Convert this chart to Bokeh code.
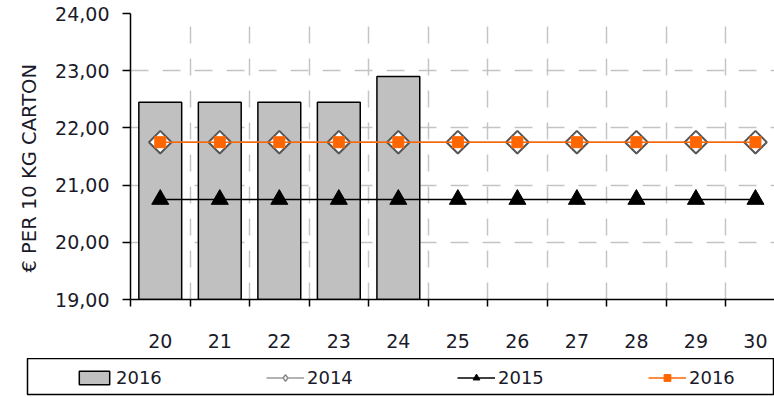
from bokeh.plotting import figure
from bokeh.models import Range1d, FixedTicker, Legend, LegendItem, Title
from bokeh.layouts import column
from bokeh.embed import file_html
from bokeh.resources import INLINE
import math

# ---- data ----
weeks = [20, 21, 22, 23, 24, 25, 26, 27, 28, 29, 30]
bar_weeks = [20, 21, 22, 23, 24]
bar_2016 = [22.45, 22.45, 22.45, 22.45, 22.90]
line_2014 = [21.75, 21.75, 21.75, 21.75, 21.75, 21.75, 21.75, 21.75, 21.75, 21.75, 21.75]
line_2015 = [20.75, 20.75, 20.75, 20.75, 20.75, 20.75, 20.75, 20.75, 20.75, 20.75, 20.75]
line_2016 = [21.75, 21.75, 21.75, 21.75, 21.75, 21.75, 21.75, 21.75, 21.75, 21.75, 21.75]
y_ticks = [19, 20, 21, 22, 23, 24]
y_tick_labels = ["19,00", "20,00", "21,00", "22,00", "23,00", "24,00"]
y_label = "€ PER 10 KG CARTON"
legend_labels = ["2016", "2014", "2015", "2016"]

FONT = "DejaVu Sans"
TXT = "#1a1a2a"

# styles
BAR = dict(fill_color="#c0c0c0", line_color="black", line_width=1.5)
L14 = dict(line_color="#9a9a9a", line_width=1.5)
S14 = dict(marker="square", angle=math.pi / 4, size=16, fill_color="white",
           line_color="#555555", line_width=2)
L15 = dict(line_color="black", line_width=1.5)
S15 = dict(marker="triangle", size=17, fill_color="black", line_color="black")
L16 = dict(line_color="#ff6600", line_width=1.5)
S16 = dict(marker="square", size=11, fill_color="#ff6600", line_color="#ff6600")

p = figure(width=774, height=358, output_backend="svg", toolbar_location=None,
           x_range=Range1d(19.5, 30.32), y_range=Range1d(19, 24),
           min_border_left=130, min_border_top=13, min_border_right=0,
           min_border_bottom=59, background_fill_color="white",
           border_fill_color="white")
p.outline_line_color = None
p.frame_align = False

boundaries = [w - 0.5 for w in weeks] + [weeks[-1] + 0.5]

# axes
p.xaxis.ticker = FixedTicker(ticks=weeks, minor_ticks=boundaries)
p.xaxis.major_tick_out = 0
p.xaxis.major_tick_in = 0
p.xaxis.minor_tick_out = 7
p.xaxis.minor_tick_in = 0
p.xaxis.minor_tick_line_color = "black"
p.xaxis.minor_tick_line_width = 1.5
p.xaxis.axis_line_color = "black"
p.xaxis.axis_line_width = 1.5
p.xaxis.major_label_standoff = 27
p.xaxis.major_label_text_font = FONT
p.xaxis.major_label_text_font_size = "19px"
p.xaxis.major_label_text_color = TXT

p.yaxis.ticker = FixedTicker(ticks=y_ticks)
p.yaxis.major_label_overrides = {t: l for t, l in zip(y_ticks, y_tick_labels)}
p.yaxis.major_tick_out = 8
p.yaxis.major_tick_in = 0
p.yaxis.major_tick_line_width = 1.5
p.yaxis.minor_tick_line_color = None
p.yaxis.axis_line_width = 1.5
p.yaxis.major_label_standoff = 13
p.yaxis.major_label_text_font = FONT
p.yaxis.major_label_text_font_size = "19px"
p.yaxis.major_label_text_color = TXT

# y-axis title, placed as a left-side title so it can sit a little lower
p.add_layout(Title(text=y_label, align="left", offset=27, standoff=24,
                   text_font=FONT, text_font_size="19.5px",
                   text_font_style="normal", text_color=TXT), "left")

# grids
p.xgrid.ticker = FixedTicker(ticks=boundaries)
p.xgrid.grid_line_color = "#c4c4c4"
p.xgrid.grid_line_width = 1.5
p.xgrid.grid_line_dash = "17 15"
p.ygrid.grid_line_color = "#c4c4c4"
p.ygrid.grid_line_width = 1.5
p.ygrid.grid_line_dash = "18 14"

# bars
p.vbar(x=bar_weeks, top=bar_2016, bottom=19, width=0.72, **BAR)
# 2014 series
p.line(weeks, line_2014, **L14)
p.scatter(weeks, line_2014, **S14)
# 2015 series
p.line(weeks, line_2015, **L15)
p.scatter(weeks, line_2015, **S15)
# 2016 series
p.line(weeks, line_2016, **L16)
p.scatter(weeks, line_2016, **S16)

# ---- legend strip (boxed); its renderers sit outside its view ----
lg = figure(width=774, height=39, output_backend="svg", toolbar_location=None,
            x_range=Range1d(0, 1), y_range=Range1d(0, 1),
            min_border_left=27, min_border_top=0, min_border_right=0,
            min_border_bottom=3, background_fill_color="white",
            border_fill_color="white")
lg.frame_align = False
lg.axis.visible = False
lg.grid.visible = False
lg.outline_line_color = "black"
lg.outline_line_width = 1.5

S14_LEG = dict(S14, marker="diamond", angle=0, size=18, line_color="#8a8a8a",
               line_width=1.5)

rb = lg.vbar(x=bar_weeks, top=bar_2016, bottom=19, width=0.72, **BAR)
r14l = lg.line(weeks, line_2014, **L14)
r14s = lg.scatter(weeks, line_2014, **S14_LEG)
r15l = lg.line(weeks, line_2015, **L15)
r15s = lg.scatter(weeks, line_2015, **S15)
r16l = lg.line(weeks, line_2016, **L16)
r16s = lg.scatter(weeks, line_2016, **S16)

legend = Legend(items=[
    LegendItem(label=legend_labels[0], renderers=[rb]),
    LegendItem(label=legend_labels[1], renderers=[r14l, r14s]),
    LegendItem(label=legend_labels[2], renderers=[r15l, r15s]),
    LegendItem(label=legend_labels[3], renderers=[r16l, r16s]),
], orientation="horizontal", location=(48, 6),
    glyph_width=38, glyph_height=17, label_standoff=3, label_width=46,
    spacing=104, padding=0, margin=0, border_line_alpha=0,
    background_fill_alpha=0, label_height=17,
    label_text_font=FONT, label_text_font_size="18px", label_text_color=TXT)
lg.add_layout(legend, "center")

layout = column(p, lg, spacing=0)
open("out.html", "w").write(file_html(layout, INLINE))
